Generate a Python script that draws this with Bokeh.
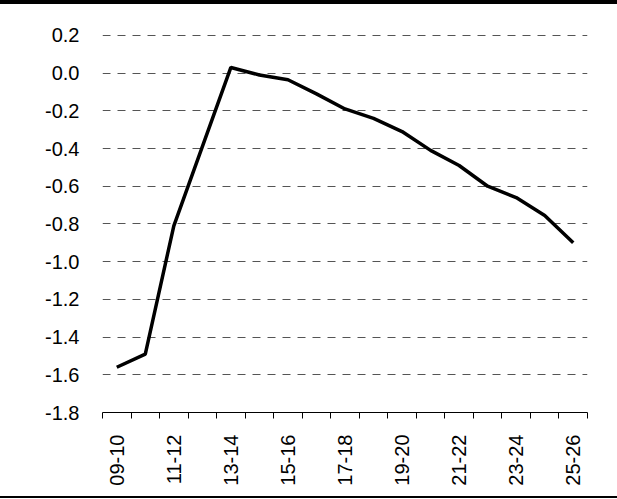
from bokeh.plotting import figure
from bokeh.models import Range1d, FixedTicker, NumeralTickFormatter, Div
from bokeh.layouts import column
from bokeh.embed import file_html
from bokeh.resources import INLINE

categories = ["09-10", "10-11", "11-12", "12-13", "13-14", "14-15", "15-16", "16-17",
              "17-18", "18-19", "19-20", "20-21", "21-22", "22-23", "23-24", "24-25", "25-26"]
values = [-1.56, -1.49, -0.81, -0.39, 0.03, -0.01, -0.035, -0.11, -0.19, -0.24,
          -0.31, -0.41, -0.49, -0.60, -0.66, -0.755, -0.90]
y_ticks = [-1.8, -1.6, -1.4, -1.2, -1.0, -0.8, -0.6, -0.4, -0.2, 0.0, 0.2]
label_every = 2

x = list(range(len(categories)))
n = len(categories)

FONT = "Liberation Sans"
FS = "20px"

p = figure(width=617, height=492, output_backend="svg", toolbar_location=None,
           x_range=Range1d(-0.5, n - 0.5), y_range=Range1d(y_ticks[0], y_ticks[-1] + 0.01))
p.min_border_left = 102
p.min_border_right = 30
p.min_border_top = 29
p.min_border_bottom = 84
p.margin = (0, 0, 0, 0)
p.outline_line_color = None
p.background_fill_color = "white"
p.border_fill_color = "white"

p.line(x, values, line_color="black", line_width=3.5)

# x axis
xa = p.xaxis[0]
xa.ticker = FixedTicker(ticks=x[::label_every], minor_ticks=[i - 0.5 for i in range(n + 1)])
xa.major_label_overrides = {i: categories[i] for i in x[::label_every]}
xa.major_label_orientation = 3.14159265 / 2
xa.major_tick_out = 0
xa.major_tick_in = 0
xa.minor_tick_out = 6
xa.minor_tick_in = 0
xa.minor_tick_line_color = "black"
xa.axis_line_color = "black"
xa.major_label_standoff = 16
xa.major_label_text_font = FONT
xa.major_label_text_font_size = FS
xa.major_label_text_color = "black"

# y axis
ya = p.yaxis[0]
ya.ticker = FixedTicker(ticks=y_ticks)
ya.formatter = NumeralTickFormatter(format="0.0")
ya.axis_line_color = None
ya.major_tick_line_color = None
ya.minor_tick_line_color = None
ya.major_label_standoff = 17
ya.major_label_text_font = FONT
ya.major_label_text_font_size = FS
ya.major_label_text_color = "black"

p.xgrid.visible = False
p.ygrid.ticker = FixedTicker(ticks=y_ticks[1:])
p.ygrid.grid_line_color = "#555555"
p.ygrid.grid_line_width = 1
p.ygrid.grid_line_dash = "8 7"

top_bar = Div(width=617, height=4, margin=(0, 0, 0, 0),
              styles={"background-color": "black"})
bottom_bar = Div(width=617, height=2, margin=(0, 0, 0, 0),
                 styles={"background-color": "black"})

layout = column(top_bar, p, bottom_bar, spacing=0, margin=(0, 0, 0, 0),
                styles={"position": "absolute", "left": "0px", "top": "0px"})

open("out.html", "w").write(file_html(layout, INLINE))
